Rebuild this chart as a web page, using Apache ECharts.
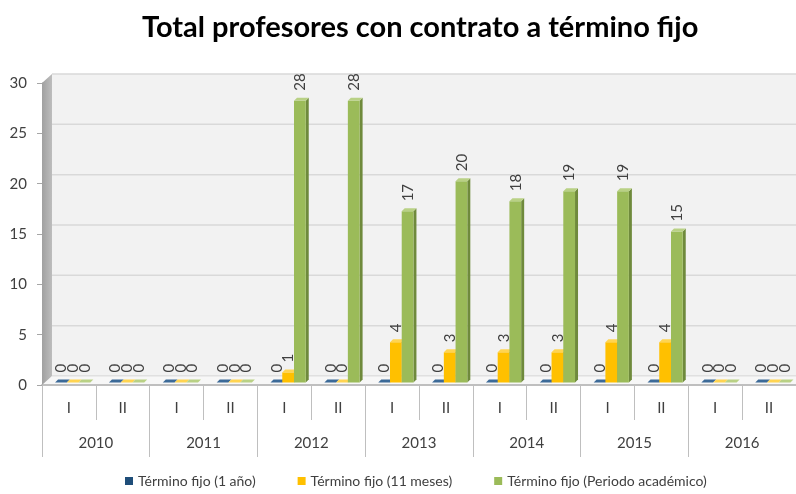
<!DOCTYPE html>
<html>
<head>
<meta charset="utf-8">
<script src="https://cdn.jsdelivr.net/npm/echarts@6/dist/echarts.min.js"></script>
<style>html,body{margin:0;padding:0;background:#fff}#c{width:796px;height:494px}</style>
</head>
<body>
<div id="c"></div>
<script>
const titleText = 'Total profesores con contrato a término fijo';
const years = ['2010', '2011', '2012', '2013', '2014', '2015', '2016'];
const semesters = ['I', 'II', 'I', 'II', 'I', 'II', 'I', 'II', 'I', 'II', 'I', 'II', 'I', 'II'];
const seriesNames = ['Término fijo (1 año)', 'Término fijo (11 meses)', 'Término fijo (Periodo académico)'];
const valUnAnio =     [0, 0, 0, 0, 0, 0, 0, 0, 0, 0, 0, 0, 0, 0];
const valOnceMeses =  [0, 0, 0, 0, 1, 0, 4, 3, 3, 3, 4, 4, 0, 0];
const valPeriodo =    [0, 0, 0, 0, 28, 28, 17, 20, 18, 19, 19, 15, 0, 0];
const yMin = 0, yMax = 30, yInterval = 5;

const FONT = 'Lato, "Liberation Sans", sans-serif';
const palette = [
  {front: '#1f4e79', side: '#163a5c', top: '#3c6a98'},
  {front: '#ffc000', side: '#c99700', top: '#ffd451'},
  {front: '#9bbb59', side: '#6f8a3c', top: '#b9d185'}
];
const seriesValues = [valUnAnio, valOnceMeses, valPeriodo];

function makeBarRenderer(k) {
  return function (params, api) {
    const i = api.value(0), v = api.value(1);
    const base = api.coord([i, 0]);
    const top = api.coord([i, v]);
    const band = api.size([1, 0])[0];
    const w = band * 0.218;
    const shift = band * 0.07;
    const lift = 2.5, d = 3;
    const x = base[0] - 1.5 * w + k * w + shift;
    const y0 = base[1] - lift, y1 = top[1] - lift;
    const c = palette[k];
    const children = [
      {type: 'polygon', shape: {points: [[x + w, y1], [x + w + d, y1 - d], [x + w + d, y0 - d], [x + w, y0]]}, style: {fill: c.side}},
      {type: 'rect', shape: {x: x, y: y1, width: w, height: Math.max(0, y0 - y1)}, style: {fill: c.front}},
      {type: 'polygon', shape: {points: [[x, y1], [x + d, y1 - d], [x + w + d, y1 - d], [x + w, y1]]}, style: {fill: c.top}},
      {type: 'text', x: x + w / 2 + 0.5, y: y1 - 10, rotation: Math.PI / 2,
        style: {text: String(v), fill: '#404040', font: '15px ' + FONT, align: 'left', verticalAlign: 'middle'}}
    ];
    return {type: 'group', children: children};
  };
}

function renderFrame(params, api) {
  const cs = params.coordSys;
  const x0 = cs.x, x1 = cs.x + cs.width, yb = cs.y + cs.height;
  const dx = 10, dy = 9;
  const yTop = api.coord([0, yMax])[1];
  const children = [];
  children.push({type: 'rect', shape: {x: x0 + dx, y: yTop - dy, width: x1 - x0 - dx, height: yb - yTop}, style: {fill: '#f2f2f2'}});
  for (let v = yMin; v <= yMax; v += yInterval) {
    const yy = api.coord([0, v])[1] - dy;
    children.push({type: 'line', shape: {x1: x0 + dx, y1: yy, x2: x1, y2: yy}, style: {stroke: '#d9d9d9', lineWidth: 1.5}});
  }
  children.push({type: 'polygon', shape: {points: [[x0, yb - 1], [x0 + dx, yb - dy], [x1, yb - dy], [x1, yb - 1]]}, style: {fill: '#f7f7f7'}});
  children.push({type: 'line', shape: {x1: x0 + dx, y1: yb - dy, x2: x1, y2: yb - dy}, style: {stroke: '#e0e0e0', lineWidth: 1}});
  children.push({type: 'polygon', shape: {points: [[x0, yb], [x0, yTop], [x0 + dx, yTop - dy], [x0 + dx, yb - dy]]},
    style: {fill: {type: 'linear', x: 0, y: 0, x2: 1, y2: 0, colorStops: [{offset: 0, color: '#a0a0a0'}, {offset: 1, color: '#bdbdbd'}]}}});
  return {type: 'group', children: children};
}

const barSeries = seriesValues.map(function (vals, k) {
  return {
    type: 'custom',
    name: seriesNames[k],
    xAxisIndex: 0,
    yAxisIndex: 0,
    z: 3 + k,
    itemStyle: {color: palette[k].front},
    renderItem: makeBarRenderer(k),
    encode: {x: 0, y: 1},
    data: vals.map(function (v, i) { return [i, v]; })
  };
});

const chart = echarts.init(document.getElementById('c'), null, {renderer: 'canvas'});
chart.setOption({
  backgroundColor: '#ffffff',
  animation: false,
  title: {
    text: titleText, left: 137, top: 8,
    textStyle: {fontFamily: FONT, fontWeight: 'bold', fontSize: 29, color: '#000000'}
  },
  legend: {
    data: seriesNames, bottom: 1, left: 120, icon: 'rect', itemWidth: 8, itemHeight: 8, itemGap: 42,
    textStyle: {fontFamily: FONT, fontSize: 14, color: '#404040'}
  },
  grid: {left: 42, right: -4, top: 83, bottom: 109},
  xAxis: [
    {
      type: 'category', data: semesters, position: 'bottom',
      axisLine: {show: true, lineStyle: {color: '#bfbfbf', width: 2}},
      axisTick: {show: true, interval: 0, length: 35, lineStyle: {color: '#bfbfbf'}},
      axisLabel: {interval: 0, margin: 16, color: '#404040', fontSize: 15, fontFamily: FONT},
      splitLine: {show: false}
    },
    {
      type: 'category', data: years, position: 'bottom',
      axisLine: {show: false},
      axisTick: {show: true, interval: 0, length: 72, lineStyle: {color: '#bfbfbf'}},
      axisLabel: {interval: 0, margin: 51, color: '#404040', fontSize: 15, fontFamily: FONT},
      splitLine: {show: false}
    }
  ],
  yAxis: {
    type: 'value', min: yMin, max: yMax, interval: yInterval,
    axisLine: {show: true, lineStyle: {color: '#a6a6a6'}},
    axisTick: {show: true, length: 5, lineStyle: {color: '#a6a6a6'}},
    axisLabel: {margin: 15, color: '#404040', fontSize: 15, fontFamily: FONT},
    splitLine: {show: false}
  },
  series: [
    {
      type: 'custom', name: 'frame', silent: true, z: 1,
      xAxisIndex: 0, yAxisIndex: 0,
      renderItem: renderFrame,
      data: [[0, 0]]
    }
  ].concat(barSeries)
});
</script>
</body>
</html>
